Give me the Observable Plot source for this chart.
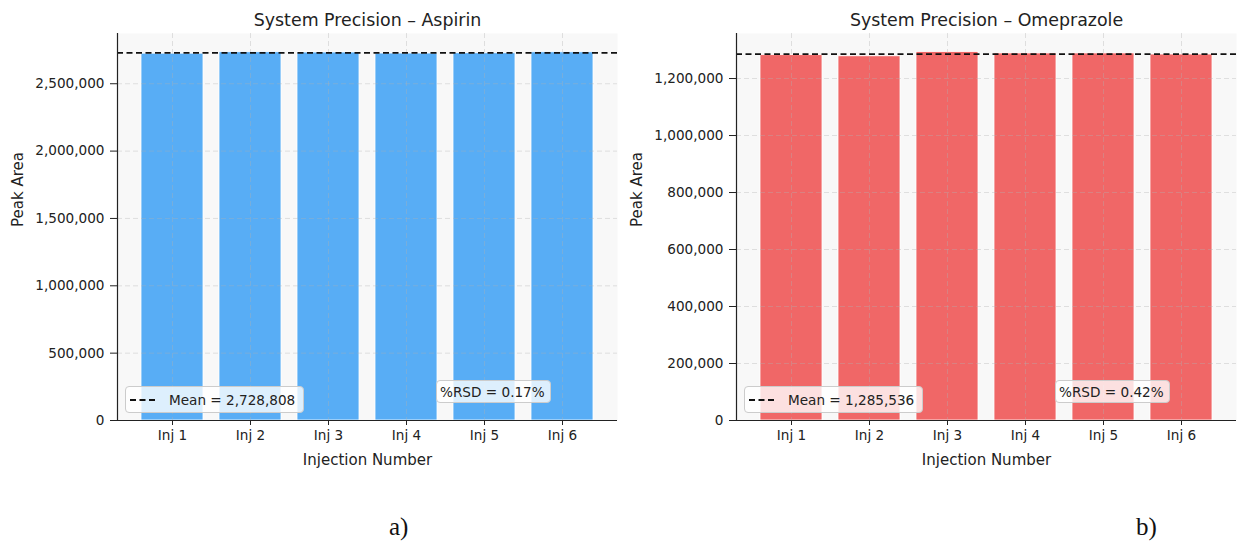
<!DOCTYPE html>
<html>
<head>
<meta charset="utf-8">
<script src="https://cdn.jsdelivr.net/npm/d3@7"></script>
<script src="https://cdn.jsdelivr.net/npm/@observablehq/plot@0.6"></script>
<style>
  html, body { margin: 0; padding: 0; background: #fff; }
  body { width: 1246px; height: 552px; position: relative; overflow: hidden; font-family: "DejaVu Sans", sans-serif; }
  .panel { position: absolute; top: 0; width: 620px; height: 480px; }
  .legend, .rsd { position: absolute; box-sizing: border-box; background: rgba(255,255,255,0.8); border: 1px solid #cccccc; border-radius: 4px; font-size: 13.6px; color: #222; display: flex; align-items: center; white-space: nowrap; }
  .legend { left: 125px; top: 386px; width: 179px; height: 27px; padding-left: 4px; }
  .legend svg { margin-right: 11px; }
  .rsd { left: 436px; top: 380px; width: 115px; height: 23px; padding-left: 3px; }
  .cap { position: absolute; top: 513px; font-family: "Liberation Serif", serif; font-size: 25px; color: #111; }
</style>
</head>
<body>
<div id="p1" class="panel" style="left:0px"></div>
<div id="p2" class="panel" style="left:619px"></div>
<div class="cap" style="left:389px">a)</div>
<div class="cap" style="left:1136px">b)</div>
<script>
// ---- data ----
const injections = ["Inj 1", "Inj 2", "Inj 3", "Inj 4", "Inj 5", "Inj 6"];
const aspirinArea = [2723308, 2733808, 2731808, 2724308, 2726308, 2733308];
const omeprazoleArea = [1282000, 1278000, 1293000, 1288000, 1288000, 1284216];
const aspirinMean = 2728808;
const omeprazoleMean = 1285536;
const aspirinRSD = "0.17%";
const omeprazoleRSD = "0.42%";
const aspirinTicks = [0, 500000, 1000000, 1500000, 2000000, 2500000];
const omeprazoleTicks = [0, 200000, 400000, 600000, 800000, 1000000, 1200000];
const aspirinYMax = 2873000;
const omeprazoleYMax = 1358000;
const titles = ["System Precision \u2013 Aspirin", "System Precision \u2013 Omeprazole"];
const xLabel = "Injection Number";
const yLabel = "Peak Area";
const colors = ["#58adf5", "#f06767"];

function chart(values, mean, ticks, ymax, title, color) {
  const data = injections.map((inj, i) => ({inj, area: values[i]}));
  return Plot.plot({
    width: 620,
    height: 480,
    marginLeft: 117,
    marginRight: 3,
    marginTop: 33,
    marginBottom: 60,
    style: {fontFamily: "DejaVu Sans, sans-serif", fontSize: "13.6px", color: "#222", background: "transparent"},
    x: {type: "band", domain: injections, paddingInner: 0.2, paddingOuter: 0.3},
    y: {domain: [0, ymax]},
    marks: [
      Plot.frame({fill: "#f8f8f8", stroke: null}),
      Plot.barY(data, {x: "inj", y: "area", fill: color, stroke: "white", strokeWidth: 0.8}),
      Plot.gridY(ticks, {stroke: "#b0b0b0", strokeOpacity: 0.45, strokeDasharray: "5,3", strokeWidth: 0.8}),
      Plot.gridX({stroke: "#b0b0b0", strokeOpacity: 0.45, strokeDasharray: "5,3", strokeWidth: 0.8}),
      Plot.ruleY([mean], {stroke: "#111", strokeWidth: 1.7, strokeDasharray: "6,3.5"}),
      Plot.frame({anchor: "left", stroke: "#222", strokeWidth: 1.2}),
      Plot.ruleY([0], {stroke: "#222", strokeWidth: 1.2}),
      Plot.axisY({ticks, tickFormat: d3.format(","), tickSize: 7, tickPadding: 6, fontSize: 13.6,
        label: null, stroke: "#222"}),
      Plot.axisX({tickSize: 5, tickPadding: 5, fontSize: 13.6, label: null, stroke: "#222"}),
      Plot.text([yLabel], {frameAnchor: "left", dx: -99, rotate: -90, fontSize: 15, fill: "#222"}),
      Plot.text([xLabel], {frameAnchor: "bottom", dy: 44, fontSize: 15, fill: "#222"}),
      Plot.text([title], {frameAnchor: "top", dy: -20, fontSize: 17.4, fill: "#222"})
    ]
  });
}

function panel(id, values, mean, ticks, ymax, title, color, rsd) {
  const el = document.getElementById(id);
  el.appendChild(chart(values, mean, ticks, ymax, title, color));
  const leg = document.createElement("div");
  leg.className = "legend";
  leg.innerHTML = '<svg width="28" height="6"><line x1="0" y1="3" x2="28" y2="3" stroke="#111" stroke-width="2" stroke-dasharray="6,3.5"/></svg>'
    + "Mean = " + d3.format(",")(mean);
  el.appendChild(leg);
  const r = document.createElement("div");
  r.className = "rsd";
  r.textContent = "%RSD = " + rsd;
  el.appendChild(r);
}

panel("p1", aspirinArea, aspirinMean, aspirinTicks, aspirinYMax, titles[0], colors[0], aspirinRSD);
panel("p2", omeprazoleArea, omeprazoleMean, omeprazoleTicks, omeprazoleYMax, titles[1], colors[1], omeprazoleRSD);
</script>
</body>
</html>
